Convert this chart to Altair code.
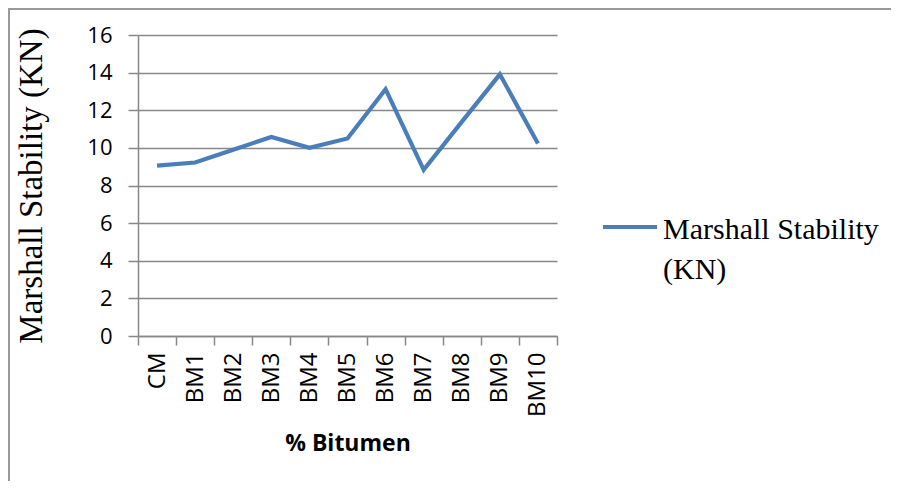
import altair as alt
import pandas as pd

categories = ["CM", "BM1", "BM2", "BM3", "BM4", "BM5", "BM6", "BM7", "BM8", "BM9", "BM10"]
stability = [9.06, 9.22, 9.9, 10.58, 10.0, 10.5, 13.12, 8.83, 11.38, 13.91, 10.23]
y_ticks = [0, 2, 4, 6, 8, 10, 12, 14, 16]
series_name = ["Marshall Stability", "(KN)"]

df = pd.DataFrame({"cat": categories, "val": stability})
one = pd.DataFrame({"k": [0]})

LINE = "#4A7EBB"
GRID = "#888888"

line = alt.Chart(df).mark_line(color=LINE, strokeWidth=4.2).encode(
    x=alt.X("cat:N", sort=categories, bandPosition=0.5,
            scale=alt.Scale(type="band", paddingInner=0, paddingOuter=0),
            axis=alt.Axis(title="% Bitumen", labelAngle=-90, tickBand="extent",
                          grid=False, domainColor=GRID, domainWidth=1.5,
                          tickColor=GRID, tickWidth=1.5, tickSize=9,
                          labelFont="Open Sans", labelFontSize=24, labelColor="black",
                          labelPadding=7, titleFont="Open Sans", titleFontSize=23,
                          titleFontWeight="bold", titleColor="black", titlePadding=16)),
    y=alt.Y("val:Q", scale=alt.Scale(domain=[0, 16], nice=False),
            axis=alt.Axis(title="Marshall Stability (KN)", values=y_ticks,
                          grid=True, gridColor=GRID, gridWidth=1.5,
                          domainColor=GRID, domainWidth=1.5,
                          tickColor=GRID, tickWidth=1.5, tickSize=10,
                          labelFont="Open Sans", labelFontSize=22, labelColor="black",
                          labelPadding=16, titleFont="Liberation Serif", titleFontSize=33,
                          titleFontWeight="normal", titleColor="black", titlePadding=38)),
)

border = alt.Chart(one).mark_rect(fillOpacity=0, stroke="#999999", strokeWidth=2).encode(
    x=alt.value(-129), x2=alt.value(900), y=alt.value(-26), y2=alt.value(600)
)

leg_line = alt.Chart(one).mark_rule(color=LINE, strokeWidth=4.2).encode(
    x=alt.value(465), x2=alt.value(519), y=alt.value(192)
)

leg_text = alt.Chart(one).mark_text(
    align="left", baseline="alphabetic", font="Liberation Serif",
    fontSize=30, lineHeight=40, color="black"
).encode(x=alt.value(525), y=alt.value(204), text=alt.value(series_name))

chart = alt.layer(border, line, leg_line, leg_text).properties(
    width=419, height=301,
    padding={"left": 130, "top": 27, "right": 334, "bottom": 145},
    autosize="none",
).configure_view(stroke=None)

chart.save("out.html", embed_options={"renderer": "svg", "actions": False})
